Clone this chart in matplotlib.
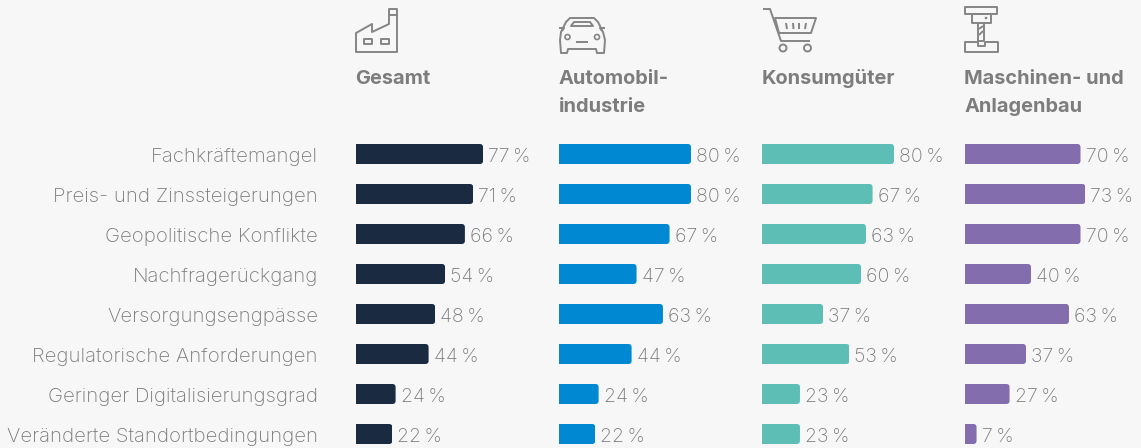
import matplotlib
matplotlib.use('Agg')
import matplotlib.pyplot as plt
from matplotlib.patches import FancyBboxPatch, Circle, Polygon
from matplotlib.transforms import ScaledTranslation

# Daten
kategorien = ['Fachkräftemangel', 'Preis- und Zinssteigerungen', 'Geopolitische Konflikte',
              'Nachfragerückgang', 'Versorgungsengpässe', 'Regulatorische Anforderungen',
              'Geringer Digitalisierungsgrad', 'Veränderte Standortbedingungen']
titel = [['Gesamt'], ['Automobil-', 'industrie'], ['Konsumgüter'], ['Maschinen- und', 'Anlagenbau']]
gesamt = [77, 71, 66, 54, 48, 44, 24, 22]
automobil = [80, 80, 67, 47, 63, 44, 24, 22]
konsum = [80, 67, 63, 60, 37, 53, 23, 23]
maschinen = [70, 73, 70, 40, 63, 37, 27, 7]

serien = [gesamt, automobil, konsum, maschinen]
farben = ['#1a2b41', '#0089d2', '#5cbeb5', '#846dad']
spalten_x = [356, 559, 762, 965]

W, H = 1141, 448
BG = '#f7f7f7'
GRAU = '#7d7d7d'
TEXT = '#7c7c7c'
ICON = '#858585'
PX_PRO_PROZENT = 1.65
ZEILE = 40

plt.rcParams['font.family'] = ['Inter', 'DejaVu Sans']

fig = plt.figure(figsize=(W / 100, H / 100), dpi=100, facecolor=BG)

for i in range(4):
    links = spalten_x[i]
    breite = 176
    ax = fig.add_axes([links / W, 0, breite / W, (H - 134) / H])
    ax.set_facecolor('none')
    ax.set_xlim(0, breite / PX_PRO_PROZENT)
    ax.set_ylim((H - 154) / ZEILE, -0.5)
    balken = ax.barh(range(8), serien[i], height=0.5, color=farben[i])
    for b, wert in zip(balken, serien[i]):
        # rechte Ecken abrunden
        r = FancyBboxPatch((-5, b.get_y()), wert + 5, b.get_height(),
                           boxstyle='round,pad=0,rounding_size=2.0',
                           mutation_aspect=(3.3 / ZEILE) / 2.0,
                           transform=ax.transData, fc='none', ec='none')
        b.set_clip_path(r)
        ax.annotate(f'{wert}\u2009%', (wert, b.get_y() + b.get_height() / 2),
                    xytext=(3.6, -1.0), textcoords='offset points', va='center_baseline',
                    ha='left', fontsize=14, color=TEXT, fontweight='light', annotation_clip=False)
    for s in ax.spines.values():
        s.set_visible(False)
    ax.set_xticks([])
    ax.set_yticks(range(8))
    if i == 0:
        ax.set_yticklabels(kategorien, fontsize=14.65, color=TEXT, fontweight='light')
        ax.tick_params(axis='y', length=0, pad=27.4)
        runter = ScaledTranslation(0, -1 / 100, fig.dpi_scale_trans)
        for lab in ax.get_yticklabels():
            lab.set_transform(lab.get_transform() + runter)
    else:
        ax.set_yticklabels([])
        ax.tick_params(axis='y', length=0)
    for n, zeile in enumerate(titel[i]):
        fig.text((links - 0.5) / W, 1 - (84.5 + 28 * n) / H, zeile, ha='left', va='baseline', fontsize=14.4,
                 fontweight='bold', color=GRAU)

# Symbole in Pixelkoordinaten
ov = fig.add_axes([0, 0, 1, 1])
ov.set_xlim(0, W)
ov.set_ylim(H, 0)
ov.axis('off')
ov.patch.set_alpha(0)


def linie(pts, closed=False):
    ov.add_patch(Polygon(pts, closed=closed, fill=False, ec=ICON, lw=1.4, joinstyle='round'))


# Fabrik
linie([(356, 52), (356, 33), (372, 24), (372, 32), (389, 24), (389, 9), (397, 9), (397, 52)], True)
linie([(389, 15), (397, 15)])
linie([(364, 39), (372, 39), (372, 44), (364, 44)], True)
linie([(381, 39), (389, 39), (389, 44), (381, 44)], True)

# Auto
linie([(561, 53), (560, 40), (561, 32), (566, 22), (570, 18), (594, 18), (598, 22), (603, 32),
       (605, 40), (604, 53), (597, 53), (596, 49), (568, 49), (567, 53)], True)
linie([(571, 26), (593, 26), (590, 22), (574, 22)], True)
linie([(559, 28), (564, 28), (562, 31)])
linie([(605, 28), (600, 28), (602, 31)])
linie([(576, 42), (588, 42)])
for cx in (567.5, 597):
    ov.add_patch(Circle((cx, 37), 2.5, fill=False, ec=ICON, lw=1.2))

# Einkaufswagen
linie([(763, 9), (770, 9), (781, 41), (810, 41)])
linie([(775, 18), (816, 18), (811, 33), (779, 33)], True)
for a, c in [(786, 787), (793, 793.5), (799, 799), (806, 805)]:
    linie([(a, 23), (c, 29)])
for cx in (783, 807.5):
    ov.add_patch(Circle((cx, 48), 3.5, fill=False, ec=ICON, lw=1.4))

# Fraesmaschine
linie([(965, 7), (997, 7), (997, 14), (965, 14)], True)
linie([(972, 14), (991, 14), (991, 23), (972, 23)], True)
linie([(978, 23), (984, 23), (984, 41), (978, 41)], True)
linie([(965, 42), (978, 42), (978, 46), (985, 46), (985, 42), (998, 42), (998, 52), (965, 52)], True)
linie([(979, 35), (983, 31)])
linie([(979, 29), (983, 26)])
ov.add_patch(Circle((986, 18), 1.3, fc=ICON, ec='none'))

fig.savefig('out.png', dpi=100, facecolor=BG)
